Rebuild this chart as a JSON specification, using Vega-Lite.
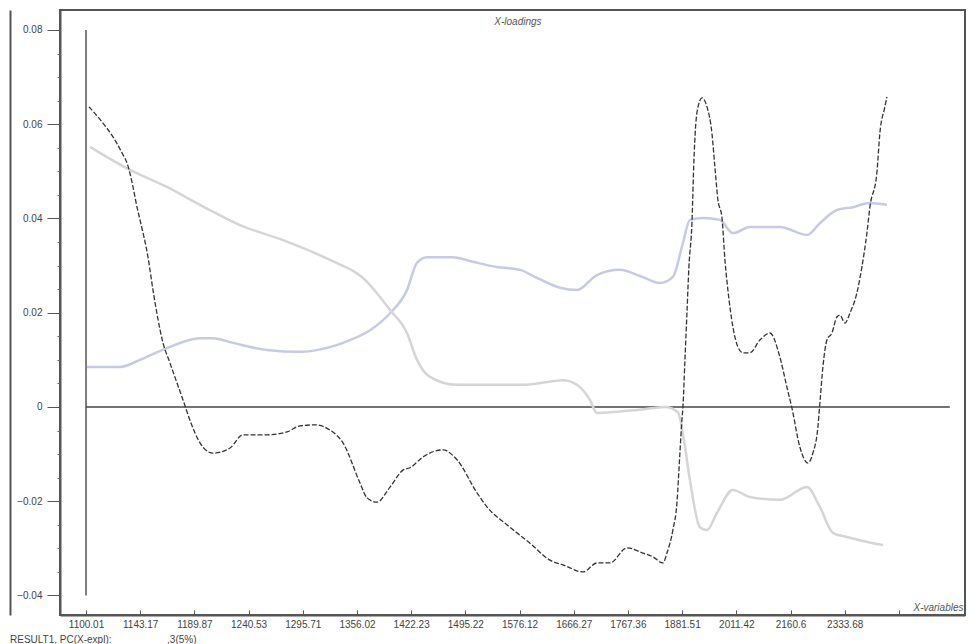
{
  "$schema": "https://vega.github.io/schema/vega-lite/v6.json",
  "width": 905,
  "height": 605,
  "autosize": {"type": "none"},
  "padding": {"left": 60, "top": 10, "right": 4, "bottom": 29},
  "background": "white",
  "config": {
    "view": {"stroke": "#555", "strokeWidth": 2},
    "font": "Liberation Sans",
    "axis": {"labelFont": "Liberation Sans", "titleFont": "Liberation Sans", "labelColor": "#444", "grid": false}
  },
  "title": {
    "text": "RESULT1, PC(X-expl):\u00a0\u00a0\u00a0\u00a0\u00a0\u00a0\u00a0\u00a0\u00a0\u00a0\u00a0\u00a0\u00a0\u00a0\u00a0\u00a0\u00a0\u00a0\u00a0\u00a0,3(5%)",
    "orient": "bottom",
    "anchor": "start",
    "frame": "bounds",
    "fontSize": 10,
    "fontWeight": "normal",
    "color": "#444",
    "offset": 6
  },
  "datasets": {
    "loadings": [
      {"pc": "3", "i": 0.055, "v": 0.0637}, {"pc": "3", "i": 0.295, "v": 0.0605}, {"pc": "3", "i": 0.498, "v": 0.0573},
      {"pc": "3", "i": 0.683, "v": 0.0535}, {"pc": "3", "i": 0.756, "v": 0.0518}, {"pc": "3", "i": 0.867, "v": 0.0467},
      {"pc": "3", "i": 0.941, "v": 0.0424}, {"pc": "3", "i": 0.996, "v": 0.0397}, {"pc": "3", "i": 1.144, "v": 0.0318},
      {"pc": "3", "i": 1.236, "v": 0.0248}, {"pc": "3", "i": 1.421, "v": 0.0136}, {"pc": "3", "i": 1.55, "v": 0.0093},
      {"pc": "3", "i": 1.79, "v": 0.0015}, {"pc": "3", "i": 1.937, "v": -0.0034}, {"pc": "3", "i": 2.103, "v": -0.0076},
      {"pc": "3", "i": 2.343, "v": -0.0098}, {"pc": "3", "i": 2.657, "v": -0.0087}, {"pc": "3", "i": 2.897, "v": -0.0059},
      {"pc": "3", "i": 3.339, "v": -0.0059}, {"pc": "3", "i": 3.708, "v": -0.0053}, {"pc": "3", "i": 3.948, "v": -0.004},
      {"pc": "3", "i": 4.225, "v": -0.0038}, {"pc": "3", "i": 4.502, "v": -0.0049}, {"pc": "3", "i": 4.742, "v": -0.0076},
      {"pc": "3", "i": 5.055, "v": -0.0161}, {"pc": "3", "i": 5.185, "v": -0.0193}, {"pc": "3", "i": 5.369, "v": -0.0202},
      {"pc": "3", "i": 5.609, "v": -0.017}, {"pc": "3", "i": 5.849, "v": -0.0134}, {"pc": "3", "i": 5.978, "v": -0.0129},
      {"pc": "3", "i": 6.218, "v": -0.0106}, {"pc": "3", "i": 6.587, "v": -0.0091}, {"pc": "3", "i": 6.845, "v": -0.0112},
      {"pc": "3", "i": 7.214, "v": -0.0182}, {"pc": "3", "i": 7.399, "v": -0.0212}, {"pc": "3", "i": 7.823, "v": -0.0255},
      {"pc": "3", "i": 8.192, "v": -0.0289}, {"pc": "3", "i": 8.561, "v": -0.0325}, {"pc": "3", "i": 8.801, "v": -0.0335},
      {"pc": "3", "i": 9.17, "v": -0.035}, {"pc": "3", "i": 9.428, "v": -0.0331}, {"pc": "3", "i": 9.668, "v": -0.0331},
      {"pc": "3", "i": 9.982, "v": -0.0299}, {"pc": "3", "i": 10.277, "v": -0.031}, {"pc": "3", "i": 10.461, "v": -0.0318},
      {"pc": "3", "i": 10.646, "v": -0.0331}, {"pc": "3", "i": 10.72, "v": -0.031}, {"pc": "3", "i": 10.83, "v": -0.0261},
      {"pc": "3", "i": 10.904, "v": -0.0204}, {"pc": "3", "i": 10.959, "v": -0.0098}, {"pc": "3", "i": 10.996, "v": -0.0028},
      {"pc": "3", "i": 11.015, "v": 0.0}, {"pc": "3", "i": 11.052, "v": 0.01}, {"pc": "3", "i": 11.089, "v": 0.0199},
      {"pc": "3", "i": 11.125, "v": 0.0297}, {"pc": "3", "i": 11.181, "v": 0.039}, {"pc": "3", "i": 11.218, "v": 0.0524},
      {"pc": "3", "i": 11.273, "v": 0.0624}, {"pc": "3", "i": 11.365, "v": 0.0656}, {"pc": "3", "i": 11.458, "v": 0.0637},
      {"pc": "3", "i": 11.55, "v": 0.0581}, {"pc": "3", "i": 11.605, "v": 0.0509}, {"pc": "3", "i": 11.661, "v": 0.0439},
      {"pc": "3", "i": 11.734, "v": 0.0403}, {"pc": "3", "i": 11.79, "v": 0.0312}, {"pc": "3", "i": 11.845, "v": 0.0248},
      {"pc": "3", "i": 11.937, "v": 0.017}, {"pc": "3", "i": 12.03, "v": 0.0127}, {"pc": "3", "i": 12.122, "v": 0.0115},
      {"pc": "3", "i": 12.251, "v": 0.0115}, {"pc": "3", "i": 12.435, "v": 0.0142}, {"pc": "3", "i": 12.62, "v": 0.0157},
      {"pc": "3", "i": 12.804, "v": 0.0106}, {"pc": "3", "i": 12.934, "v": 0.0042}, {"pc": "3", "i": 13.026, "v": -0.0002},
      {"pc": "3", "i": 13.173, "v": -0.0085}, {"pc": "3", "i": 13.321, "v": -0.0119}, {"pc": "3", "i": 13.413, "v": -0.0098},
      {"pc": "3", "i": 13.506, "v": -0.0042}, {"pc": "3", "i": 13.542, "v": 0.0008}, {"pc": "3", "i": 13.598, "v": 0.0085},
      {"pc": "3", "i": 13.672, "v": 0.0142}, {"pc": "3", "i": 13.764, "v": 0.0157}, {"pc": "3", "i": 13.856, "v": 0.0191},
      {"pc": "3", "i": 13.911, "v": 0.0195}, {"pc": "3", "i": 14.004, "v": 0.0178}, {"pc": "3", "i": 14.096, "v": 0.0199},
      {"pc": "3", "i": 14.225, "v": 0.0242}, {"pc": "3", "i": 14.317, "v": 0.0297}, {"pc": "3", "i": 14.41, "v": 0.0369},
      {"pc": "3", "i": 14.465, "v": 0.0424}, {"pc": "3", "i": 14.594, "v": 0.0497}, {"pc": "3", "i": 14.649, "v": 0.0581},
      {"pc": "3", "i": 14.742, "v": 0.0637}, {"pc": "3", "i": 14.779, "v": 0.0658},

      {"pc": "2", "i": 0.074, "v": 0.0552}, {"pc": "2", "i": 0.812, "v": 0.0503}, {"pc": "2", "i": 1.494, "v": 0.0467},
      {"pc": "2", "i": 2.103, "v": 0.0429}, {"pc": "2", "i": 2.841, "v": 0.0386}, {"pc": "2", "i": 3.635, "v": 0.0354},
      {"pc": "2", "i": 4.502, "v": 0.0312}, {"pc": "2", "i": 5.111, "v": 0.0274}, {"pc": "2", "i": 5.609, "v": 0.0206},
      {"pc": "2", "i": 5.923, "v": 0.0157}, {"pc": "2", "i": 6.107, "v": 0.01}, {"pc": "2", "i": 6.347, "v": 0.0064},
      {"pc": "2", "i": 6.845, "v": 0.0047}, {"pc": "2", "i": 7.583, "v": 0.0047}, {"pc": "2", "i": 8.063, "v": 0.0047},
      {"pc": "2", "i": 8.506, "v": 0.0053}, {"pc": "2", "i": 8.801, "v": 0.0057}, {"pc": "2", "i": 9.059, "v": 0.0047},
      {"pc": "2", "i": 9.299, "v": 0.0015}, {"pc": "2", "i": 9.428, "v": -0.0013}, {"pc": "2", "i": 9.668, "v": -0.0011},
      {"pc": "2", "i": 10.221, "v": -0.0006}, {"pc": "2", "i": 10.683, "v": 0.0}, {"pc": "2", "i": 10.923, "v": -0.0011},
      {"pc": "2", "i": 11.033, "v": -0.007}, {"pc": "2", "i": 11.144, "v": -0.0155}, {"pc": "2", "i": 11.328, "v": -0.0255},
      {"pc": "2", "i": 11.458, "v": -0.0261}, {"pc": "2", "i": 11.642, "v": -0.0225}, {"pc": "2", "i": 11.937, "v": -0.0176},
      {"pc": "2", "i": 12.251, "v": -0.0191}, {"pc": "2", "i": 12.804, "v": -0.0197}, {"pc": "2", "i": 13.303, "v": -0.017},
      {"pc": "2", "i": 13.542, "v": -0.0212}, {"pc": "2", "i": 13.782, "v": -0.0267}, {"pc": "2", "i": 14.041, "v": -0.0276},
      {"pc": "2", "i": 14.52, "v": -0.0289}, {"pc": "2", "i": 14.705, "v": -0.0293},

      {"pc": "1", "i": 0.018, "v": 0.0085}, {"pc": "1", "i": 0.627, "v": 0.0085}, {"pc": "1", "i": 0.996, "v": 0.01},
      {"pc": "1", "i": 1.494, "v": 0.0125}, {"pc": "1", "i": 2.103, "v": 0.0146}, {"pc": "1", "i": 2.343, "v": 0.0146},
      {"pc": "1", "i": 2.712, "v": 0.0136}, {"pc": "1", "i": 3.339, "v": 0.0121}, {"pc": "1", "i": 3.948, "v": 0.0117},
      {"pc": "1", "i": 4.502, "v": 0.0127}, {"pc": "1", "i": 4.871, "v": 0.0142}, {"pc": "1", "i": 5.24, "v": 0.0163},
      {"pc": "1", "i": 5.609, "v": 0.0199}, {"pc": "1", "i": 5.923, "v": 0.0248}, {"pc": "1", "i": 6.107, "v": 0.0306},
      {"pc": "1", "i": 6.292, "v": 0.0318}, {"pc": "1", "i": 6.771, "v": 0.0318}, {"pc": "1", "i": 7.14, "v": 0.0308},
      {"pc": "1", "i": 7.583, "v": 0.0297}, {"pc": "1", "i": 8.007, "v": 0.0291}, {"pc": "1", "i": 8.321, "v": 0.0274},
      {"pc": "1", "i": 8.745, "v": 0.0253}, {"pc": "1", "i": 9.059, "v": 0.0248}, {"pc": "1", "i": 9.428, "v": 0.028},
      {"pc": "1", "i": 9.852, "v": 0.0291}, {"pc": "1", "i": 10.221, "v": 0.0278}, {"pc": "1", "i": 10.59, "v": 0.0263},
      {"pc": "1", "i": 10.83, "v": 0.0276}, {"pc": "1", "i": 11.015, "v": 0.0348}, {"pc": "1", "i": 11.144, "v": 0.0397},
      {"pc": "1", "i": 11.384, "v": 0.0401}, {"pc": "1", "i": 11.697, "v": 0.0397}, {"pc": "1", "i": 11.937, "v": 0.0369},
      {"pc": "1", "i": 12.251, "v": 0.0382}, {"pc": "1", "i": 12.804, "v": 0.0382}, {"pc": "1", "i": 13.303, "v": 0.0365},
      {"pc": "1", "i": 13.542, "v": 0.039}, {"pc": "1", "i": 13.856, "v": 0.0418}, {"pc": "1", "i": 14.151, "v": 0.0424},
      {"pc": "1", "i": 14.465, "v": 0.0433}, {"pc": "1", "i": 14.779, "v": 0.0429}
    ],
    "refs": [{"x0": 0, "x1": 15.94, "y0": 0, "ytop": 0.08, "ybot": -0.04}]
  },
  "layer": [
    {
      "data": {"name": "refs"},
      "mark": {"type": "rule", "color": "#555", "strokeWidth": 1.5},
      "encoding": {
        "x": {"field": "x0", "type": "quantitative",
          "scale": {"domain": [-0.48, 16.22], "nice": false, "zero": false},
          "axis": {
            "values": [0, 1, 2, 3, 4, 5, 6, 7, 8, 9, 10, 11, 12, 13, 14, 15],
            "labelExpr": "['1100.01','1143.17','1189.87','1240.53','1295.71','1356.02','1422.23','1495.22','1576.12','1666.27','1767.36','1881.51','2011.42','2160.6','2333.68',''][datum.value]",
            "labelFontSize": 10,
            "labelPadding": 9,
            "tickSize": -5,
            "tickColor": "#555",
            "domainColor": "#555",
            "domainWidth": 2,
            "title": "X-variables",
            "titleFontStyle": "italic",
            "titleFontWeight": "normal",
            "titleFontSize": 10,
            "titleColor": "#555",
            "titleAlign": "right",
            "titleAnchor": null,
            "titleX": 903,
            "titleY": -5,
            "titleBaseline": "alphabetic"
          }
        },
        "y": {"field": "ytop", "type": "quantitative",
          "scale": {"domain": [-0.04414, 0.08424], "nice": false, "zero": false},
          "axis": {
            "orient": "left",
            "values": [-0.04, -0.02, 0, 0.02, 0.04, 0.06, 0.08],
            "labelExpr": "datum.value == 0 ? '0' : format(datum.value, '.2f')",
            "labelFontSize": 10,
            "labelPadding": 5,
            "tickSize": 13,
            "tickColor": "#555",
            "domainColor": "#555",
            "domainWidth": 2,
            "title": null
          }
        },
        "y2": {"field": "ybot"}
      }
    },
    {
      "data": {"name": "refs"},
      "mark": {"type": "rule", "color": "#444", "strokeWidth": 1.5},
      "encoding": {
        "x": {"field": "x0", "type": "quantitative"},
        "x2": {"field": "x1"},
        "y": {"field": "y0", "type": "quantitative",
          "axis": {
            "orient": "left",
            "values": [-0.035, -0.03, -0.025, -0.015, -0.01, -0.005, 0.005, 0.01, 0.015, 0.025, 0.03, 0.035, 0.045, 0.05, 0.055, 0.065, 0.07, 0.075],
            "labels": false, "domain": false, "tickSize": 3, "tickColor": "#666", "title": null
          }
        }
      }
    },
    {
      "data": {"name": "refs"},
      "mark": {"type": "rule", "opacity": 0},
      "encoding": {
        "y": {"field": "y0", "type": "quantitative",
          "axis": {"orient": "left", "offset": 50, "labels": false, "ticks": false, "domain": true, "domainColor": "#555", "domainWidth": 2, "title": null}
        }
      }
    },
    {
      "data": {"name": "loadings"},
      "transform": [{"filter": "datum.pc == '1'"}],
      "mark": {"type": "line", "color": "#c7cae6", "strokeWidth": 2.5, "interpolate": "monotone"},
      "encoding": {
        "x": {"field": "i", "type": "quantitative"},
        "y": {"field": "v", "type": "quantitative", "axis": null}
      }
    },
    {
      "data": {"name": "loadings"},
      "transform": [{"filter": "datum.pc == '2'"}],
      "mark": {"type": "line", "color": "#d8d4d6", "strokeWidth": 2.5, "interpolate": "monotone"},
      "encoding": {
        "x": {"field": "i", "type": "quantitative"},
        "y": {"field": "v", "type": "quantitative", "axis": null}
      }
    },
    {
      "data": {"name": "loadings"},
      "transform": [{"filter": "datum.pc == '3'"}],
      "mark": {"type": "line", "color": "#333", "strokeWidth": 1.3, "strokeDash": [5, 2], "interpolate": "monotone"},
      "encoding": {
        "x": {"field": "i", "type": "quantitative"},
        "y": {"field": "v", "type": "quantitative", "axis": null}
      }
    },
    {
      "data": {"values": [{"label": "X-loadings"}]},
      "mark": {"type": "text", "fontStyle": "italic", "fontSize": 10, "color": "#555", "font": "Liberation Sans"},
      "encoding": {
        "x": {"datum": 7.97},
        "y": {"datum": 0.0817, "axis": null},
        "text": {"field": "label"}
      }
    }
  ],
  "resolve": {"axis": {"y": "independent"}}
}
